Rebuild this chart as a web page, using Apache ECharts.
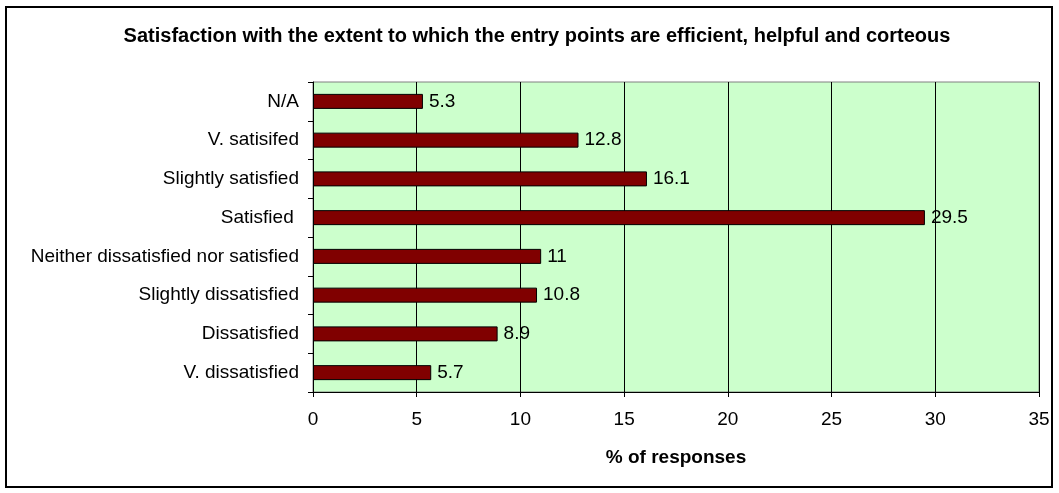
<!DOCTYPE html>
<html><head><meta charset="utf-8">
<script src="https://cdn.jsdelivr.net/npm/echarts@6/dist/echarts.min.js"></script>
<style>html,body{margin:0;padding:0;background:#fff}#c{width:1059px;height:493px}</style>
</head><body><div id="c"></div>
<script>
const categories = ["V. dissatisfied","Dissatisfied","Slightly dissatisfied","Neither dissatisfied nor satisfied","Satisfied ","Slightly satisfied","V. satisifed","N/A"];
const values = [5.7, 8.9, 10.8, 11, 29.5, 16.1, 12.8, 5.3];
const xTicks = {min: 0, max: 35, interval: 5};
const titleText = "Satisfaction with the extent to which the entry points are efficient, helpful and corteous";
const xName = "% of responses";

const chart = echarts.init(document.getElementById('c'), null, {renderer: 'canvas'});
const font = "'Liberation Sans', Arial, sans-serif";
chart.setOption({
  animation: false,
  backgroundColor: '#ffffff',
  graphic: [{
    type: 'rect', shape: {x: 6, y: 7, width: 1046, height: 480},
    style: {fill: 'none', stroke: '#000', lineWidth: 2}, silent: true, z: 100
  }, {
    type: 'text', x: 537, y: 36, silent: true, z: 100,
    style: {text: titleText, fontFamily: font, fontSize: 20, fontWeight: 'bold', fill: '#000',
            align: 'center', verticalAlign: 'middle'}
  }],
  grid: {
    left: 313, right: 20, top: 82, bottom: 101,
    show: true, backgroundColor: '#CCFFCC', borderColor: '#808080', borderWidth: 1
  },
  xAxis: {
    type: 'value', min: xTicks.min, max: xTicks.max, interval: xTicks.interval,
    name: xName, nameLocation: 'middle', nameGap: 56,
    nameTextStyle: {fontFamily: font, fontSize: 19, fontWeight: 'bold', color: '#000'},
    axisLine: {show: true, lineStyle: {color: '#000', width: 1}},
    axisTick: {show: true, length: 5, lineStyle: {color: '#000'}},
    axisLabel: {fontFamily: font, fontSize: 19, color: '#000', margin: 18},
    splitLine: {show: true, lineStyle: {color: '#000', width: 1}}
  },
  yAxis: {
    type: 'category', data: categories,
    axisLine: {show: true, lineStyle: {color: '#000', width: 1}},
    axisTick: {show: true, length: 5, lineStyle: {color: '#000'}},
    axisLabel: {fontFamily: font, fontSize: 19, color: '#000', margin: 14},
    splitLine: {show: false}
  },
  series: [{
    type: 'bar', data: values, barWidth: 15,
    itemStyle: {color: '#800000', borderColor: '#000', borderWidth: 1},
    label: {show: true, position: 'right', distance: 6, fontFamily: font, fontSize: 19, color: '#000'}
  }]
});
</script></body></html>
